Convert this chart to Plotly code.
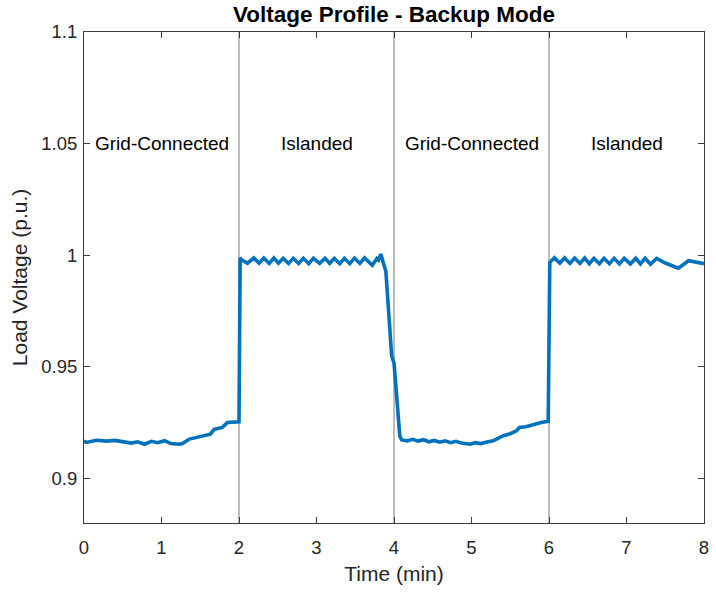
import plotly.graph_objects as go

# Load voltage trace (p.u.) against time (min)
time_min = [
    0.00, 0.03, 0.16, 0.29, 0.40, 0.50, 0.61, 0.69, 0.78, 0.87, 0.95, 1.04, 1.12,
    1.23, 1.27, 1.36, 1.53, 1.63, 1.68, 1.78, 1.85, 1.98, 2.00,
    2.015, 2.04, 2.11, 2.19, 2.26, 2.32, 2.39, 2.45, 2.51, 2.57, 2.64, 2.70, 2.77,
    2.83, 2.90, 2.96, 3.04, 3.11, 3.17, 3.23, 3.30, 3.36, 3.43, 3.49, 3.56, 3.62,
    3.72, 3.78, 3.80, 3.83, 3.86, 3.895, 3.97, 4.00, 4.075,
    4.10, 4.17, 4.24, 4.31, 4.38, 4.45, 4.52, 4.59, 4.66, 4.73, 4.80, 4.87, 4.98,
    5.05, 5.12, 5.20, 5.28, 5.41, 5.50, 5.58, 5.62, 5.70, 5.75, 5.82, 5.90, 5.99,
    6.01, 6.03, 6.07, 6.14, 6.20, 6.27, 6.33, 6.40, 6.46, 6.52, 6.58, 6.65, 6.71,
    6.78, 6.84, 6.91, 6.97, 7.05, 7.12, 7.18, 7.24, 7.31, 7.39, 7.50, 7.67, 7.80,
    7.90, 8.00,
]
load_voltage = [
    0.9168, 0.9161, 0.9171, 0.9167, 0.9170, 0.9166, 0.9158, 0.9164, 0.9153, 0.9166, 0.9160, 0.9169, 0.9156,
    0.9153, 0.9156, 0.9176, 0.9191, 0.9198, 0.9220, 0.9228, 0.9250, 0.9252, 0.9253,
    0.9988, 0.9978, 0.9964, 0.9988, 0.9964, 0.9987, 0.9963, 0.9987, 0.9964, 0.9986, 0.9963, 0.9986,
    0.9963, 0.9986, 0.9962, 0.9986, 0.9963, 0.9986, 0.9963, 0.9986, 0.9962, 0.9986, 0.9962, 0.9987,
    0.9963, 0.9988, 0.9955, 0.9985, 0.9978, 1.0005, 0.9968, 0.9928, 0.9548, 0.9518, 0.9190,
    0.9172, 0.9168, 0.9175, 0.9167, 0.9173, 0.9164, 0.9170, 0.9162, 0.9168, 0.9160, 0.9166, 0.9158, 0.9153,
    0.9160, 0.9156, 0.9163, 0.9168, 0.9191, 0.9200, 0.9213, 0.9228, 0.9231, 0.9236, 0.9246, 0.9250, 0.9256,
    0.9966, 0.9975, 0.9988, 0.9964, 0.9988, 0.9963, 0.9987, 0.9963, 0.9987, 0.9962, 0.9986, 0.9962, 0.9986,
    0.9962, 0.9986, 0.9961, 0.9986, 0.9961, 0.9986, 0.9961, 0.9986, 0.9960, 0.9985, 0.9965, 0.9942, 0.9975,
    0.9968, 0.9962,
]

# Operating modes and their switching instants
mode_labels = ["Grid-Connected", "Islanded", "Grid-Connected", "Islanded"]
mode_centers = [1, 3, 5, 7]
mode_label_level = 1.05
switch_times = [2, 4, 6]

x_ticks = [0, 1, 2, 3, 4, 5, 6, 7, 8]
y_ticks = [0.9, 0.95, 1.0, 1.05, 1.1]
y_tick_text = ["0.9", "0.95", "1", "1.05", "1.1"]

FONT = "Liberation Sans, Arial, sans-serif"
AXIS_GRAY = "#3c3c3c"
TEXT_GRAY = "#262626"

fig = go.Figure()
fig.add_trace(go.Scatter(
    x=time_min, y=load_voltage, mode="lines",
    line=dict(color="#0072BD", width=3.6),
    showlegend=False, hoverinfo="x+y",
))

for t in switch_times:
    fig.add_shape(type="line", xref="x", yref="paper", x0=t, x1=t, y0=0, y1=1,
                  line=dict(color="#7a7a7a", width=1), layer="below")

for label, xc in zip(mode_labels, mode_centers):
    fig.add_annotation(x=xc, y=mode_label_level, text=label, showarrow=False,
                       font=dict(family=FONT, size=19, color="#000000"))

axis_common = dict(
    showline=True, linecolor=AXIS_GRAY, linewidth=1, mirror="ticks",
    ticks="inside", ticklen=6, tickwidth=1, tickcolor=AXIS_GRAY,
    showgrid=False, zeroline=False,
    tickfont=dict(family=FONT, size=18.5, color=TEXT_GRAY),
)

fig.update_layout(
    width=716, height=593,
    margin=dict(l=84, r=7, t=32, b=70),
    paper_bgcolor="white", plot_bgcolor="white",
    title=dict(text="<b>Voltage Profile - Backup Mode</b>", xref="paper", x=0.5,
               xanchor="center", y=0.976, yanchor="middle",
               font=dict(family=FONT, size=22.5, color="#000000")),
    xaxis=dict(range=[0, 8], tickvals=x_ticks, ticklabelstandoff=8,
               title=dict(text="Time (min)", standoff=9,
                          font=dict(family=FONT, size=21, color=TEXT_GRAY)),
               **axis_common),
    yaxis=dict(range=[0.88, 1.1], tickvals=y_ticks, ticktext=y_tick_text,
               ticklabelstandoff=2,
               title=dict(text="Load Voltage (p.u.)", standoff=7,
                          font=dict(family=FONT, size=21, color=TEXT_GRAY)),
               **axis_common),
)

fig.write_html("out.html")
